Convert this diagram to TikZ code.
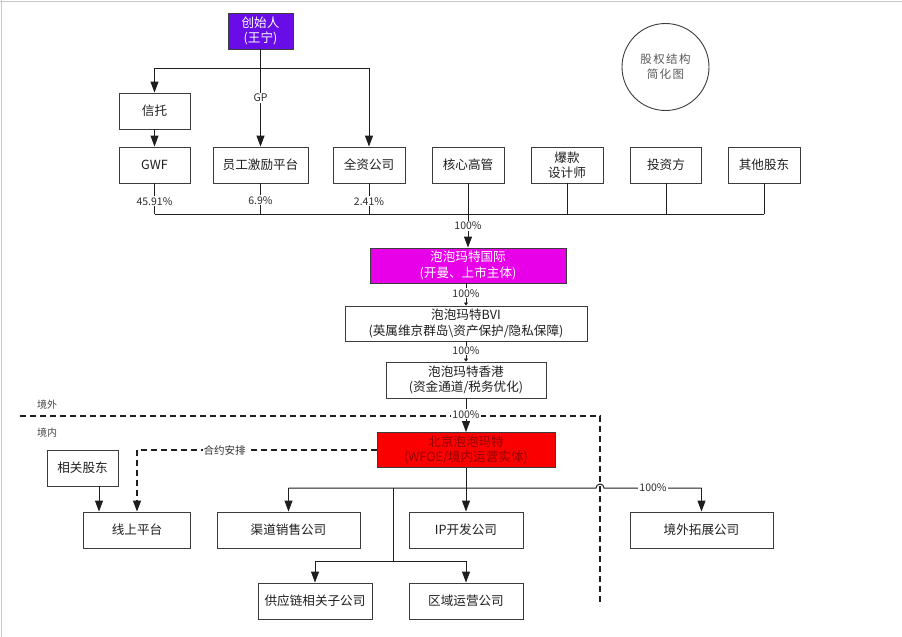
\documentclass[tikz,border=0pt]{standalone}
\usepackage{fontspec}
\setmainfont{Noto Sans CJK SC}
\newfontfamily\spacedfont[LetterSpace=12]{Noto Sans CJK SC}
\usetikzlibrary{arrows.meta,calc}
\definecolor{founderc}{RGB}{104,12,232}
\definecolor{intlc}{RGB}{232,0,232}
\definecolor{bjc}{RGB}{250,0,0}
\definecolor{bjtext}{RGB}{150,0,0}
\definecolor{linec}{RGB}{30,30,30}
\definecolor{edgec}{RGB}{60,60,60}
\tikzset{
  box/.style={draw=edgec, line width=0.9pt, minimum height=36pt, inner sep=0pt,
    align=center, text=black!88, font=\fontsize{12.6}{15.5}\selectfont},
  lbl/.style={fill=white, inner sep=1pt, text=black!82, font=\fontsize{10.5}{12}\selectfont},
  ln/.style={draw=linec, line width=1pt},
  arr/.style={ln, -{Triangle[width=8pt,length=11pt]}},
  sarr/.style={ln, -{Triangle[width=4pt,length=3pt]}},
  dsh/.style={draw=linec, line width=1.1pt, dash pattern=on 6pt off 4pt},
  region/.style={text=black!72, font=\fontsize{10}{12}\selectfont}
}
\begin{document}
\begin{tikzpicture}[x=1pt,y=-1pt]
\useasboundingbox (0,0) rectangle (902,637);
\fill[white] (0,0) rectangle (902,637);
\draw[black!22, line width=1pt] (0,1) -- (902,1);
\draw[black!22, line width=1pt] (1,0) -- (1,637);

% nodes
\node[box, fill=founderc, text=white, minimum width=65pt] (founder) at (260.5,31) {创始人\\(王宁)};
\node[box, minimum width=71pt] (trust) at (154.5,111) {信托};
\node[box, minimum width=71pt] (gwf) at (154.5,165) {GWF};
\node[box, minimum width=95pt] (esop) at (260.5,165) {员工激励平台};
\node[box, minimum width=72pt] (wholly) at (369,165) {全资公司};
\node[box, minimum width=72pt] (core) at (468,165) {核心高管};
\node[box, minimum width=72pt] (designer) at (567,165) {爆款\\设计师};
\node[box, minimum width=71pt] (investor) at (666,165) {投资方};
\node[box, minimum width=72pt] (others) at (764,165) {其他股东};

\node[draw=edgec, line width=0.9pt, circle, minimum size=87pt, inner sep=0pt, align=center,
  text=black!65, font=\spacedfont\fontsize{11.5}{15}\selectfont] (title) at (665.5,67) {股权结构\\简化图};

\node[box, fill=intlc, text=white, minimum width=196pt, minimum height=35pt] (intl) at (468,265.5) {泡泡玛特国际\\(开曼、上市主体)};
\node[box, minimum width=242pt, minimum height=35pt] (bvi) at (466,323.5) {泡泡玛特BVI\\(英属维京群岛\textbackslash 资产保护/隐私保障)};
\node[box, minimum width=160pt] (hk) at (466,380) {泡泡玛特香港\\(资金通道/税务优化)};
\node[box, fill=bjc, text=bjtext, minimum width=178pt, minimum height=35pt] (bj) at (466,450) {北京泡泡玛特\\(WFOE/境内运营实体)};

\node[box, minimum width=71pt] (holders) at (82.5,468) {相关股东};
\node[box, minimum width=107pt] (online) at (137,530) {线上平台};
\node[box, minimum width=143pt] (channel) at (288.5,530) {渠道销售公司};
\node[box, minimum width=114pt] (ip) at (466,530) {IP开发公司};
\node[box, minimum width=143pt] (overseas) at (701.5,530) {境外拓展公司};
\node[box, minimum width=114pt] (supply) at (315,601) {供应链相关子公司};
\node[box, minimum width=114pt] (regional) at (466,601) {区域运营公司};

% founder connections
\coordinate (j1) at (154.5,68);
\coordinate (j2) at (369,68);
\draw[ln] (j1) -- (j2);
\draw[arr] (j1) -- (trust);
\draw[arr] (j2) -- (wholly);
\draw[arr] (founder) -- node[lbl, pos=0.5]{GP} (esop);
\draw[arr] (trust) -- (gwf);

% shareholder bus
\coordinate (b1) at (154.5,214);
\coordinate (b2) at (764,214);
\coordinate (bc) at (468,214);
\draw[ln] (b1) -- (b2);
\draw[ln] (gwf) -- node[lbl, pos=0.58]{45.91\%} (b1);
\draw[ln] (esop) -- node[lbl, pos=0.55]{6.9\%} (esop |- b1);
\draw[ln] (wholly) -- node[lbl, pos=0.58]{2.41\%} (b1 -| wholly);
\draw[ln] (core) -- (bc);
\draw[ln] (designer) -- (b1 -| designer);
\draw[ln] (investor) -- (b1 -| investor);
\draw[ln] (others) -- (b2);
\draw[arr] (bc) -- node[lbl, pos=0.36]{100\%} (intl);

% chain
\draw[sarr] (intl.south -| bvi.north) -- node[lbl, pos=0.45]{100\%} (bvi.north);
\draw[sarr] (bvi) -- node[lbl, pos=0.45]{100\%} (hk);

% border
\coordinate (d1) at (20,416);
\coordinate (d2) at (600,416);
\coordinate (d3) at (600,606);
\draw[dsh] (d1) -- (d2) -- (d3);
\node[region] (outside) at (47,405) {境外};
\node[region] (inside) at (47,433) {境内};
\draw[arr] (hk) -- node[lbl, pos=0.47]{100\%} (bj);

% contract arrangement
\draw[dsh, -{Triangle[width=8pt,length=11pt]}] (bj.west) -| node[lbl, pos=0.317]{合约安排} (online.north -| 137,0);
\draw[arr] ([xshift=16.5pt]holders.south) -- ([xshift=16.5pt]holders.south |- online.north);

% subsidiaries
\draw[arr] (bj) -- (ip);
\coordinate (h1) at (288.5,488);
\coordinate (h2) at (701.5,488);
\coordinate (hop) at (596,488);
\draw[ln] (h1) -- (hop) arc (180:360:4) -- (h2);
\node[lbl] (pct) at (653,488) {100\%};
\draw[arr] (h1) -- (channel);
\draw[arr] (h2) -- (overseas);
\coordinate (v1) at (393,488);
\coordinate (v2) at (393,561);
\coordinate (s1) at (315,561);
\coordinate (s2) at (466,561);
\draw[ln] (v1) -- (v2);
\draw[ln] (s1) -- (s2);
\draw[arr] (s1) -- (supply);
\draw[arr] (s2) -- (regional);
\end{tikzpicture}
\end{document}
